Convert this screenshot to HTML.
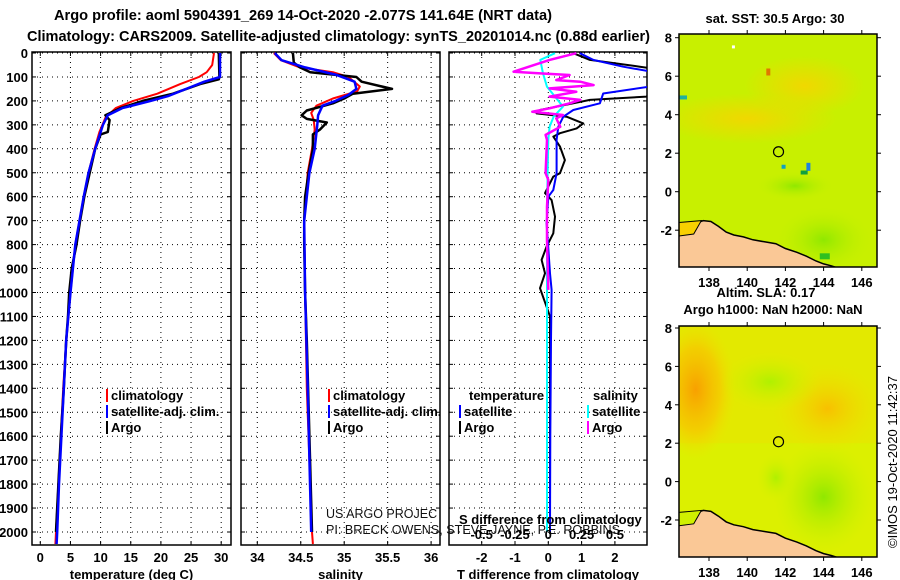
<!DOCTYPE html>
<html><head><meta charset="utf-8"><style>
html,body{margin:0;padding:0;background:#fff;}
svg{display:block;font-family:"Liberation Sans",Arial,sans-serif;}
.b{font-weight:bold;}
</style></head><body>
<svg id="chart" width="900" height="580" viewBox="0 0 900 580">
<defs>
<clipPath id="c1"><rect x="32" y="52" width="199" height="493"/></clipPath>
<clipPath id="c2"><rect x="241" y="52" width="199" height="493"/></clipPath>
<clipPath id="c3"><rect x="449" y="52" width="198" height="493"/></clipPath>
<clipPath id="m1"><rect x="679" y="34" width="198" height="233"/></clipPath>
<clipPath id="m2"><rect x="679" y="326" width="198" height="231"/></clipPath>
<radialGradient id="gO1" cx="0.5" cy="0.5" r="0.5"><stop offset="0" stop-color="#f8a000"/><stop offset="0.6" stop-color="#f8c400" stop-opacity="0.7"/><stop offset="1" stop-color="#f0e000" stop-opacity="0"/></radialGradient>
<radialGradient id="gO2" cx="0.5" cy="0.5" r="0.5"><stop offset="0" stop-color="#f8c000"/><stop offset="1" stop-color="#f0e000" stop-opacity="0"/></radialGradient>
<radialGradient id="gG" cx="0.5" cy="0.5" r="0.5"><stop offset="0" stop-color="#b0f000"/><stop offset="1" stop-color="#d8f000" stop-opacity="0"/></radialGradient>
<radialGradient id="gG2" cx="0.5" cy="0.5" r="0.5"><stop offset="0" stop-color="#90e800"/><stop offset="1" stop-color="#c8f000" stop-opacity="0"/></radialGradient>
<radialGradient id="gY" cx="0.5" cy="0.5" r="0.5"><stop offset="0" stop-color="#f0d800"/><stop offset="1" stop-color="#f0d800" stop-opacity="0"/></radialGradient>
</defs>
<g id="titles">
<text x="54" y="20" class="b" font-size="15" textLength="498" lengthAdjust="spacingAndGlyphs">Argo profile: aoml 5904391_269 14-Oct-2020 -2.077S 141.64E (NRT data)</text>
<text x="27" y="41" class="b" font-size="15" textLength="623" lengthAdjust="spacingAndGlyphs">Climatology: CARS2009. Satellite-adjusted climatology: synTS_20201014.nc (0.88d earlier)</text>
</g>
<g id="panels"></g>
<g id="maps"></g>
</svg>
<script>
// ---- data ----
const tempArgoDepth=[0,100,110,130,170,200,230,260,280,330,340,400,500,600,700,800,900,1000,1100,1200,1400,1600,1800,2000];
const tempArgo=[29.6,29.7,29.6,26.5,22,17,13.3,10.8,11.5,11.2,10,9.1,8.2,7.3,6.6,6.0,5.2,4.8,4.6,4.3,3.9,3.4,3.0,2.6];
const tempClimDepth=[0,50,80,100,130,170,200,230,270,330,400,500,600,700,800,1000,1200,1400,1600,1800,2000,2050];
const tempClim=[28.8,28.5,27.6,26.3,23.2,19.4,15.4,12.5,10.8,9.8,9.0,8.0,7.2,6.5,5.8,5.0,4.3,3.8,3.4,3.0,2.6,2.5];
const tempSatDepth=[0,100,120,150,180,200,230,260,300,400,500,600,700,800,1000,1200,1400,1600,1800,2000,2050];
const tempSat=[29.8,29.8,27.2,24.2,21.2,18.3,13.6,11.2,10.4,9.1,8.0,7.2,6.5,5.8,5.0,4.3,3.9,3.5,3.1,2.8,2.7];
const salArgoDepth=[0,40,60,80,100,120,150,170,190,210,240,260,275,290,320,340,400,500,600,700,800,1000,1200,1600,2000];
const salArgo=[34.41,34.42,34.49,34.61,35.14,35.2,35.55,35.1,35.0,34.87,34.57,34.51,34.57,34.8,34.72,34.64,34.64,34.59,34.55,34.54,34.54,34.55,34.57,34.6,34.63];
const salClimDepth=[0,30,60,80,100,140,160,190,220,250,280,320,400,500,700,1000,1400,2000,2050];
const salClim=[34.19,34.27,34.49,34.87,35.05,35.18,35.15,34.87,34.68,34.62,34.65,34.66,34.63,34.58,34.54,34.55,34.57,34.63,34.64];
const salSatDepth=[0,30,60,90,120,150,175,200,220,260,300,400,500,700,1000,1400,2000];
const salSat=[34.20,34.28,34.55,34.9,35.12,35.14,35.05,34.9,34.75,34.7,34.69,34.66,34.6,34.54,34.55,34.58,34.62];
const dTArgoDepth=[1,29,57,78,182,196,210,238,252,266,294,315,335,349,391,447,502,516,585,614,683,753,808,864,920,982,1100,1500,2000];
const dTArgo=[0.75,1.25,2.75,3.75,2.95,1.25,0.75,-0.25,-0.35,0.55,1.05,0.85,0.35,0.15,0.35,0.5,0.35,0.15,-0.1,0.1,0.2,0.15,-0.05,-0.2,-0.1,-0.25,0.05,0.05,0.05];
const dTSatDepth=[1,29,57,78,141,169,210,238,266,308,363,502,572,600,711,920,989,1197,1600,2000];
const dTSat=[0.95,1.35,2.25,3.1,3.0,1.65,1.55,0.75,0.45,0.3,0.25,0.25,0.15,0,-0.05,0.05,0.1,0.08,0.06,0.05];
const dSSatDepth=[1,29,85,141,182,224,266,308,363,642,1197,1600,2000];
const dSSat=[0.05,-0.06,-0.04,-0.01,0.05,0.11,0.04,0.01,0.0,-0.01,-0.01,-0.01,-0.01];
const dSArgoDepth=[1,29,78,85,92,113,120,134,148,162,182,196,210,231,245,259,273,308,342,363,502,530,642,781,989];
const dSArgo=[0.21,0.01,-0.26,-0.06,0.16,0.06,0.24,0.34,0.01,0.21,0.01,0.24,0.16,0.01,-0.12,0.11,0.06,0.09,-0.02,-0.01,-0.02,0.0,-0.01,-0.01,0.0];
const depthTicks=[0,100,200,300,400,500,600,700,800,900,1000,1100,1200,1300,1400,1500,1600,1700,1800,1900,2000];
const tempTicks=[0,5,10,15,20,25,30];
const salTicks=[34,34.5,35,35.5,36];
const dTTicks=[-2,-1,0,1,2];
const dSTicks=[-0.5,-0.25,0,0.25,0.5];
const dSTickLabels=["-0.5","-0.25","0","0.25","0.5"];
const latTicks=[8,6,4,2,0,-2];
const lonTicks=[138,140,142,144,146];
const coastLon=[136.4,136.6,137.0,137.4,137.7,138.1,138.5,138.9,139.3,139.8,140.3,140.9,141.5,142.0,142.6,143.1,143.6,144.0,144.4,144.7,144.7,136.4];
const coastLat=[-2.3,-2.1,-1.8,-1.6,-1.5,-1.55,-1.8,-2.1,-2.25,-2.35,-2.5,-2.6,-2.7,-2.95,-3.15,-3.35,-3.6,-3.75,-3.85,-3.95,-3.95,-3.95];
const argoLon=141.64, argoLat=2.077;

// ---- scales ----
const NS="http://www.w3.org/2000/svg";
const TOP=52,BOT=545;
const yD=d=>53+d*0.2395;
const xT=t=>40.3+t*6.03;
const xS=s=>257.3+(s-34)*86.9;
const xdT=t=>548.3+t*33.3;
const xdS=s=>548.3+s*133.3;
const mx=l=>709+(l-138)*19.1;
const my1=l=>37.7+(8-l)*19.25;
const my2=l=>328+(8-l)*19.2;
function mk(tag,attrs,parent,text){const e=document.createElementNS(NS,tag);for(const k in attrs)e.setAttribute(k,attrs[k]);if(text!==undefined)e.textContent=text;parent.appendChild(e);return e;}
const P=document.getElementById('panels');
function line(vals,depths,xf,color,w,clip,name){
  let d='';for(let i=0;i<vals.length;i++){d+=(i?'L':'M')+xf(vals[i]).toFixed(1)+','+yD(depths[i]).toFixed(1);}
  const p=mk('path',{d:d,fill:'none',stroke:color,'stroke-width':w,'clip-path':'url(#'+clip+')','stroke-linejoin':'round'},P);
  
  
}
function panel(x0,x1,ticks,xf,labels,clip,title,name){
  const g=mk('g',{},P);
  
  
  ticks.forEach((t,i)=>{const x=xf(t);
    mk('line',{x1:x,x2:x,y1:TOP,y2:BOT,stroke:'#000','stroke-width':1,'stroke-dasharray':'1,4'},g);
    mk('line',{x1:x,x2:x,y1:TOP,y2:TOP+4,stroke:'#000'},g);mk('line',{x1:x,x2:x,y1:BOT-4,y2:BOT,stroke:'#000'},g);
    const tl=mk('text',{x:x,y:562,'text-anchor':'middle','font-size':13,'font-weight':'bold'},g,labels[i]);
    
    
  });
  depthTicks.forEach(d=>{const y=yD(d);
    mk('line',{x1:x0,x2:x1,y1:y,y2:y,stroke:'#000','stroke-dasharray':'1,4'},g);
    mk('line',{x1:x0,x2:x0+4,y1:y,y2:y,stroke:'#000'},g);mk('line',{x1:x1-4,x2:x1,y1:y,y2:y,stroke:'#000'},g);});
  mk('rect',{x:x0,y:TOP,width:x1-x0,height:BOT-TOP,fill:'none',stroke:'#000','stroke-width':1.5},g);
  const tt=mk('text',{x:(x0+x1)/2,y:579,'text-anchor':'middle','font-size':13,'font-weight':'bold'},g,title);
  
  
}
panel(32,231,tempTicks,xT,tempTicks.map(String),'c1','temperature (deg C)','temperature-panel');
panel(241,440,salTicks,xS,salTicks.map(String),'c2','salinity','salinity-panel');
panel(449,647,dTTicks,xdT,dTTicks.map(String),'c3','T difference from climatology','difference-panel');
depthTicks.forEach(d=>{const t=mk('text',{x:28,y:yD(d)+5,'text-anchor':'end','font-size':13,'font-weight':'bold'},P,String(d));
  
  });

line(tempClim,tempClimDepth,xT,'#f00',2,'c1','temp-climatology-line');
line(tempArgo,tempArgoDepth,xT,'#000',2.5,'c1','temp-argo-line');
line(tempSat,tempSatDepth,xT,'#00f',2.5,'c1','temp-satellite-line');
line(salClim,salClimDepth,xS,'#f00',2,'c2','sal-climatology-line');
line(salArgo,salArgoDepth,xS,'#000',2.5,'c2','sal-argo-line');
line(salSat,salSatDepth,xS,'#00f',2.5,'c2','sal-satellite-line');
line(dTArgo,dTArgoDepth,xdT,'#000',2,'c3','dT-argo-line');
line(dSSat,dSSatDepth,xdS,'#0ff',2,'c3','dS-satellite-line');
line(dTSat,dTSatDepth,xdT,'#00f',2,'c3','dT-satellite-line');
line(dSArgo,dSArgoDepth,xdS,'#f0f',2.5,'c3','dS-argo-line');

function legend(x,y,color,label,name){
  const g=mk('g',{},P);
  
  
  mk('rect',{x:x,y:y-11,width:2,height:13,fill:color},g);
  mk('text',{x:x+5,y:y,'font-size':13,'font-weight':'bold'},g,label);
}
legend(106,400,'#f00','climatology','legend-climatology');
legend(106,416,'#00f','satellite-adj. clim.','legend-satellite-adj');
legend(106,432,'#000','Argo','legend-argo');
legend(328,400,'#f00','climatology','legend-climatology-sal');
legend(328,416,'#00f','satellite-adj. clim.','legend-satellite-adj-sal');
legend(328,432,'#000','Argo','legend-argo-sal');
legend(459,416,'#00f','satellite','legend-dT-satellite');
legend(459,432,'#000','Argo','legend-dT-argo');
legend(587,416,'#0ff','satellite','legend-dS-satellite');
legend(587,432,'#f0f','Argo','legend-dS-argo');
mk('text',{x:469,y:400,'font-size':13,'font-weight':'bold'},P,'temperature');
mk('text',{x:593,y:400,'font-size':13,'font-weight':'bold'},P,'salinity');
mk('text',{x:326,y:518,'font-size':12.5,fill:'#111'},P,'US ARGO PROJEC');
mk('text',{x:326,y:534,'font-size':12.5,fill:'#111',textLength:294,lengthAdjust:'spacingAndGlyphs'},P,'PI: BRECK OWENS, STEVE JAYNE, P.E. ROBBINS');
mk('text',{x:459,y:524,'font-size':13,'font-weight':'bold'},P,'S difference from climatology');
dSTicks.forEach((s,i)=>{const t=mk('text',{x:xdS(s),y:539,'text-anchor':'middle','font-size':13,'font-weight':'bold'},P,dSTickLabels[i]);
  
  });

// ---- maps ----
const M=document.getElementById('maps');
function map(top,bottom,myf,clip,kind,name){
  const g=mk('g',{'clip-path':'url(#'+clip+')'},M);
  
  
  if(kind===1){
    mk('rect',{x:679,y:top,width:198,height:bottom-top,fill:'#c8f000'},g);
    mk('ellipse',{cx:mx(140),cy:myf(3.8),rx:90,ry:25,fill:'url(#gY)'},g);
    mk('ellipse',{cx:mx(143),cy:myf(5.5),rx:60,ry:30,fill:'url(#gY)'},g);
    mk('ellipse',{cx:mx(144),cy:myf(-2.5),rx:50,ry:35,fill:'url(#gG2)'},g);
    mk('ellipse',{cx:mx(142.5),cy:myf(0.3),rx:40,ry:15,fill:'url(#gG2)'},g);
    mk('rect',{x:mx(141),y:myf(6.4),width:4,height:7,fill:'#e07800'},g);
    mk('rect',{x:mx(139.2),y:myf(7.6),width:3,height:3,fill:'#fff'},g);
    mk('rect',{x:679,y:myf(5),width:8,height:4,fill:'#20b0a0'},g);
    mk('rect',{x:mx(143.1),y:myf(1.5),width:4,height:8,fill:'#2080e0'},g);
    mk('rect',{x:mx(141.8),y:myf(1.4),width:4,height:4,fill:'#10a0c0'},g);
    mk('rect',{x:mx(142.8),y:myf(1.1),width:7,height:4,fill:'#10a040'},g);
    mk('rect',{x:mx(143.8),y:myf(-3.2),width:10,height:6,fill:'#30c020'},g);
  } else {
    mk('rect',{x:679,y:top,width:198,height:bottom-top,fill:'#dcf000'},g);
    mk('rect',{x:679,y:top,width:198,height:myf(2)-top,fill:'#e8e400',opacity:0.6},g);
    mk('ellipse',{cx:mx(137.3),cy:myf(4.8),rx:40,ry:70,fill:'url(#gO1)'},g);
    mk('ellipse',{cx:mx(144.2),cy:myf(3.8),rx:55,ry:45,fill:'url(#gO2)'},g);
    mk('ellipse',{cx:mx(141.2),cy:myf(5.2),rx:50,ry:30,fill:'url(#gG)'},g);
    mk('ellipse',{cx:mx(144),cy:myf(-0.8),rx:50,ry:55,fill:'url(#gG2)'},g);
    mk('ellipse',{cx:mx(141.5),cy:myf(0.2),rx:20,ry:25,fill:'url(#gG)'},g);
  }
  let d='';for(let i=0;i<coastLon.length;i++)d+=(i?'L':'M')+mx(coastLon[i]).toFixed(1)+','+myf(coastLat[i]).toFixed(1);
  const c=mk('path',{d:d+'Z',fill:'#fac896',stroke:'#000','stroke-width':1.5},g);
  
  
  mk('path',{d:'M679,'+myf(-1.6)+'L'+mx(137.6)+','+myf(-1.5)+'L'+mx(137.2)+','+myf(-2.2)+'L679,'+myf(-2.3)+'Z',fill:kind===1?'#f8d000':'#d0f000',stroke:'#000','stroke-width':1},g);
  const a=mk('circle',{cx:mx(argoLon),cy:myf(argoLat),r:5,fill:'none',stroke:'#000','stroke-width':1.2},M);
  
  
  mk('rect',{x:679,y:top,width:198,height:bottom-top,fill:'none',stroke:'#000','stroke-width':1.5},M);
  latTicks.forEach(l=>{const y=myf(l);
    mk('line',{x1:675,x2:679,y1:y,y2:y,stroke:'#000'},M);mk('line',{x1:877,x2:881,y1:y,y2:y,stroke:'#000'},M);
    const t=mk('text',{x:672,y:y+5,'text-anchor':'end','font-size':13,'font-weight':'bold'},M,String(l));
    
    });
  lonTicks.forEach(l=>{const x=mx(l);
    mk('line',{x1:x,x2:x,y1:top-4,y2:top,stroke:'#000'},M);mk('line',{x1:x,x2:x,y1:bottom,y2:bottom+4,stroke:'#000'},M);
    const t=mk('text',{x:x,y:bottom+20,'text-anchor':'middle','font-size':13,'font-weight':'bold'},M,String(l));
    
    });
}
map(34,267,my1,'m1',1,'sst-map');
map(326,557,my2,'m2',2,'sla-map');
mk('text',{x:775,y:23,'text-anchor':'middle','font-size':13,'font-weight':'bold'},M,'sat. SST: 30.5 Argo: 30');
mk('text',{x:766,y:297,'text-anchor':'middle','font-size':13,'font-weight':'bold'},M,'Altim. SLA: 0.17');
mk('text',{x:773,y:314,'text-anchor':'middle','font-size':13,'font-weight':'bold'},M,'Argo h1000: NaN h2000: NaN');
const im=mk('text',{x:0,y:0,'text-anchor':'middle','font-size':13,transform:'translate(897,462) rotate(-90)'},M,'©IMOS 19-Oct-2020 11:42:37');


</script>
</body></html>
